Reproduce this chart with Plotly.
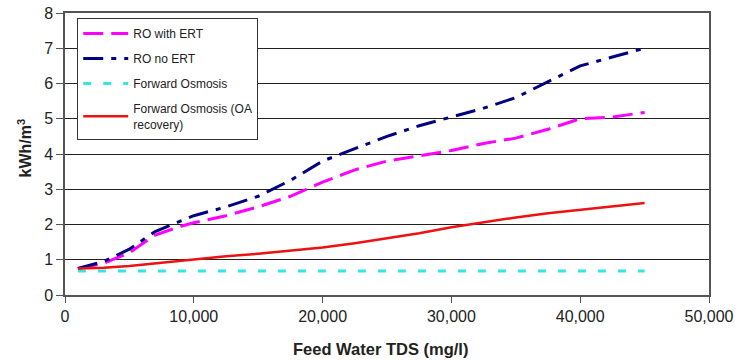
import plotly.graph_objects as go

tds = [1000, 3000, 5000, 7000, 9000, 10000, 12500, 15000, 17500, 20000,
       22500, 25000, 27500, 30000, 32500, 35000, 37500, 40000, 42500, 45000]
ro_with_ert = [0.75, 0.9, 1.2, 1.7, 1.95, 2.05, 2.25, 2.5, 2.8, 3.2,
               3.55, 3.8, 3.95, 4.1, 4.3, 4.45, 4.7, 5.0, 5.05, 5.18]
ro_no_ert = [0.75, 0.95, 1.3, 1.8, 2.1, 2.25, 2.5, 2.8, 3.25, 3.8,
             4.15, 4.5, 4.8, 5.05, 5.3, 5.6, 6.05, 6.5, 6.75, 7.0]
fo = [0.68, 0.68, 0.68, 0.68, 0.68, 0.68, 0.68, 0.68, 0.68, 0.68,
      0.68, 0.68, 0.68, 0.68, 0.68, 0.68, 0.68, 0.68, 0.68, 0.68]
fo_oa = [0.75, 0.77, 0.82, 0.9, 0.97, 1.02, 1.1, 1.17, 1.25, 1.35,
         1.47, 1.6, 1.75, 1.92, 2.07, 2.2, 2.32, 2.42, 2.52, 2.61]
x_ticks = [0, 10000, 20000, 30000, 40000, 50000]
x_ticktext = ["0", "10,000", "20,000", "30,000", "40,000", "50,000"]

fig = go.Figure()
fig.add_trace(go.Scatter(x=tds, y=ro_with_ert, mode="lines", name="RO with ERT", legendgroup="a",
                         line=dict(color="#ff00ff", width=3, dash="20px,8px")))
fig.add_trace(go.Scatter(x=tds, y=ro_no_ert, mode="lines", name="RO no ERT", legendgroup="b",
                         line=dict(color="#000080", width=3, dash="20px,8px,5px,8px")))
fig.add_trace(go.Scatter(x=tds, y=fo, mode="lines", name="Forward Osmosis", legendgroup="c",
                         line=dict(color="#33e6e6", width=3, dash="8px,12px")))
fig.add_trace(go.Scatter(x=tds, y=fo_oa, mode="lines", name="Forward Osmosis (OA<br>recovery)",
                         legendgroup="d", line=dict(color="#ee1111", width=2.5)))

fig.update_layout(
    width=739, height=360,
    margin=dict(l=65, r=30, t=13, b=65, autoexpand=False),
    paper_bgcolor="white", plot_bgcolor="white",
    font=dict(family="Liberation Sans, Arial, sans-serif", size=16, color="#222"),
    showlegend=True,
    legend=dict(x=0.019, y=0.982, xanchor="left", yanchor="top",
                bgcolor="white", bordercolor="#333", borderwidth=1,
                font=dict(size=12, color="#222"), tracegroupgap=6,
                itemwidth=45),
    annotations=[
        dict(text="<b>Feed Water TDS (mg/l)</b>", xref="paper", yref="paper",
             x=0.49, y=-0.19, xanchor="center", yanchor="middle", showarrow=False,
             font=dict(size=16.5, color="#222")),
        dict(text="<b>kWh/m<sup>3</sup></b>", xref="paper", yref="paper",
             x=-0.062, y=0.52, xanchor="center", yanchor="middle", showarrow=False,
             textangle=-90, font=dict(size=16, color="#222")),
    ],
)
fig.update_xaxes(range=[0, 50000], tickvals=x_ticks, ticktext=x_ticktext, automargin=False,
                 showgrid=False, zeroline=False, showline=True, linecolor="#555",
                 linewidth=1.5, mirror=True, ticks="outside", ticklen=6, tickcolor="#555")
fig.update_yaxes(range=[0, 8], dtick=1, showgrid=True, gridcolor="#222", gridwidth=1,
                 automargin=False,
                 zeroline=False, showline=True, linecolor="#555", linewidth=1.5, mirror=True,
                 ticks="outside", ticklen=7, tickcolor="#555")

fig.write_html("out.html", config={"displayModeBar": False},
               post_script="document.body.style.margin='0';")
